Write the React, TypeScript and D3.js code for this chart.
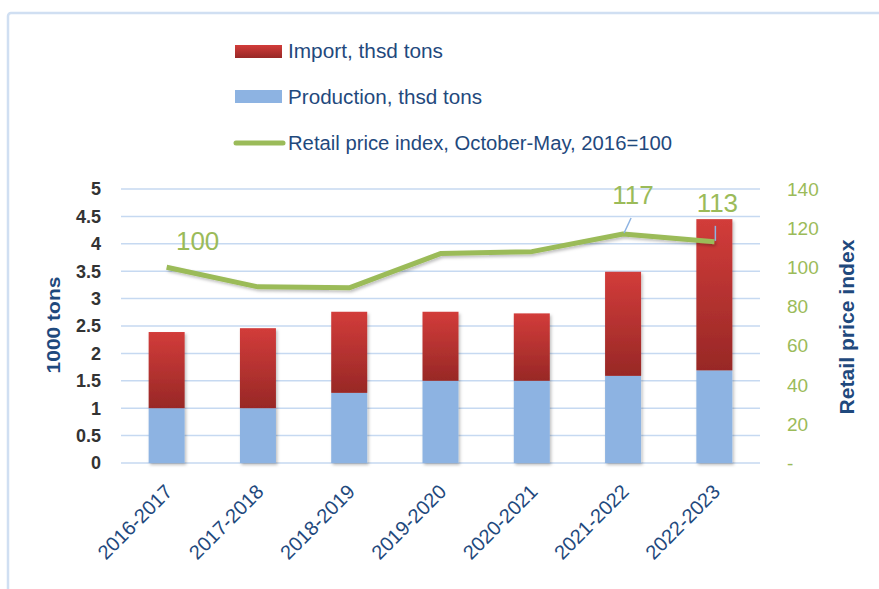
import React from 'react';
import * as d3 from 'd3';

const categories = ['2016-2017', '2017-2018', '2018-2019', '2019-2020', '2020-2021', '2021-2022', '2022-2023'];
const production = [1.0, 1.0, 1.28, 1.5, 1.5, 1.59, 1.69];
const imports = [1.39, 1.46, 1.48, 1.26, 1.23, 1.9, 2.76];
const priceIndex = [100, 90, 89.5, 107, 108, 117, 113];
const leftTicks = [0, 0.5, 1, 1.5, 2, 2.5, 3, 3.5, 4, 4.5, 5];
const leftTickLabels = ['0', '0.5', '1', '1.5', '2', '2.5', '3', '3.5', '4', '4.5', '5'];
const rightTicks = [0, 20, 40, 60, 80, 100, 120, 140];
const rightTickLabels = ['-', '20', '40', '60', '80', '100', '120', '140'];
const labelledIdx = [0, 5, 6];
const legendLabels = ['Import, thsd tons', 'Production, thsd tons', 'Retail price index, October-May, 2016=100'];

const GREEN = '#9BBB59';
const BLUE = '#8DB3E2';
const NAVY = '#1F497D';
const GRID = '#C6D9F1';

export default function App() {
  const W = 879, H = 589;
  const left = 121, right = 760, top = 189, bottom = 463;
  const x = d3.scaleBand<string>().domain(categories).range([left, right]).paddingInner(0.6).paddingOuter(0.3);
  const step = (right - left) / categories.length;
  const xc = (i: number) => left + step * (i + 0.5);
  const bw = 36;
  const yL = d3.scaleLinear().domain([0, 5]).range([bottom, top]);
  const yR = d3.scaleLinear().domain([0, 140]).range([bottom, top]);
  const line = d3.line<number>().x((_, i) => xc(i)).y((d) => yR(d));

  // label placement relative to point (label center x, baseline y), leader line flag
  const labelPos: Record<number, { dx: number; dy: number; leader: boolean }> = {
    0: { dx: 31, dy: -17, leader: false },
    5: { dx: 10, dy: -30, leader: true },
    6: { dx: 3, dy: -30, leader: true },
  };

  return (
    <svg width={W} height={H} style={{ position: 'absolute', left: 0, top: 0, display: 'block', background: '#fff' }}
      fontFamily="'Liberation Sans', Arial, sans-serif">
      <defs>
        <linearGradient id="impGrad" x1="0" y1="0" x2="0" y2="1">
          <stop offset="0" stopColor="#D23C3A" />
          <stop offset="1" stopColor="#982826" />
        </linearGradient>
        <filter id="shadow" x="-20%" y="-20%" width="140%" height="140%">
          <feDropShadow dx="1.5" dy="2" stdDeviation="1.5" floodColor="#000" floodOpacity="0.25" />
        </filter>
      </defs>
      <rect x={8} y={13} width={900} height={600} rx={3} fill="#fff" stroke="#D0DFF2" strokeWidth={2.5} />

      {/* legend */}
      <g>
        <rect x={235} y={45} width={47} height={13} fill="url(#impGrad)" />
        <text x={288} y={58} fontSize={20} fill={NAVY} textLength={155} lengthAdjust="spacingAndGlyphs">{legendLabels[0]}</text>
        <rect x={235} y={90} width={47} height={13} fill={BLUE} />
        <text x={288} y={104} fontSize={20} fill={NAVY} textLength={194} lengthAdjust="spacingAndGlyphs">{legendLabels[1]}</text>
        <line x1={236} x2={283} y1={143} y2={143} stroke={GREEN} strokeWidth={5} strokeLinecap="round" />
        <text x={288} y={150} fontSize={20} fill={NAVY} textLength={384} lengthAdjust="spacingAndGlyphs">{legendLabels[2]}</text>
      </g>

      {/* gridlines */}
      {leftTicks.map((t) => (
        <line key={'g' + t} x1={left} x2={right} y1={yL(t)} y2={yL(t)} stroke={GRID} strokeWidth={1.5} />
      ))}

      {/* left ticks */}
      {leftTicks.map((t, i) => (
        <text key={'l' + t} x={101} y={yL(t)} dy="0.36em" textAnchor="end" fontSize={18} fontWeight="bold" fill="#333">{leftTickLabels[i]}</text>
      ))}
      {/* right ticks */}
      {rightTicks.map((t, i) => (
        <text key={'r' + t} x={787} y={yR(t)} dy="0.36em" textAnchor="start" fontSize={19} fill={GREEN}>{rightTickLabels[i]}</text>
      ))}

      <text transform={`translate(60,325) rotate(-90)`} textAnchor="middle" fontSize={19} fontWeight="bold" fill={NAVY} textLength={97} lengthAdjust="spacingAndGlyphs">1000 tons</text>
      <text transform={`translate(854,327) rotate(-90)`} textAnchor="middle" fontSize={20} fontWeight="bold" fill={NAVY} textLength={175} lengthAdjust="spacingAndGlyphs">Retail price index</text>

      {/* bars */}
      <g filter="url(#shadow)">
        {categories.map((c, i) => (
          <g key={c}>
            <rect x={xc(i) - bw / 2} y={yL(production[i])} width={bw} height={yL(0) - yL(production[i])} fill={BLUE} />
            <rect x={xc(i) - bw / 2} y={yL(production[i] + imports[i])} width={bw} height={yL(production[i]) - yL(production[i] + imports[i])} fill="url(#impGrad)" />
          </g>
        ))}
      </g>

      {/* x labels */}
      {categories.map((c, i) => (
        <text key={'x' + c} transform={`translate(${xc(i) + 7},${bottom + 30}) rotate(-45)`} textAnchor="end" fontSize={20} fill={NAVY}>{c}</text>
      ))}

      {/* price line */}
      <path d={line(priceIndex) || ''} fill="none" stroke={GREEN} strokeWidth={5} strokeLinejoin="round" filter="url(#shadow)" />

      {/* data labels */}
      {labelledIdx.map((i) => {
        const p = labelPos[i];
        const px = xc(i), py = yR(priceIndex[i]);
        return (
          <g key={'dl' + i}>
            {p.leader && (
              <line x1={px + p.dx - 2} y1={py + p.dy + 14} x2={px + 1} y2={py - 1} stroke={BLUE} strokeWidth={1.5} />
            )}
            <text x={px + p.dx} y={py + p.dy} textAnchor="middle" fontSize={26} fill={GREEN}>{String(priceIndex[i])}</text>
          </g>
        );
      })}
    </svg>
  );
}
